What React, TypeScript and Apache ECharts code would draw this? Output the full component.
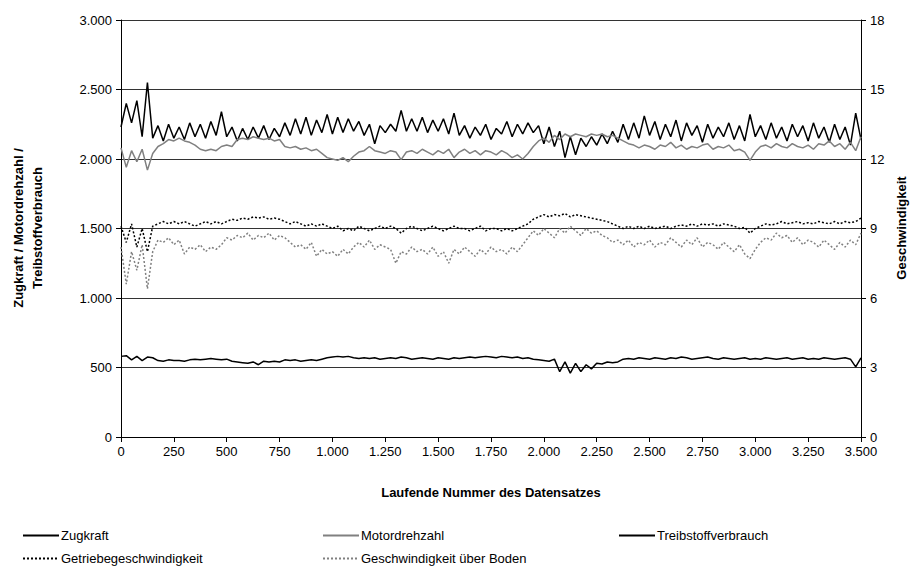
import React, { useEffect, useRef } from "react";
import * as echarts from "echarts";

const STEP = 25;

const zugkraft = [
  2230, 2400, 2260, 2420, 2160, 2550, 2150, 2240, 2130, 2250,
  2150, 2230, 2140, 2260, 2160, 2250, 2150, 2270, 2170, 2340,
  2160, 2230, 2130, 2220, 2140, 2230, 2150, 2240, 2140, 2220,
  2160, 2260, 2170, 2290, 2180, 2300, 2170, 2280, 2190, 2320,
  2180, 2300, 2190, 2290, 2200, 2270, 2170, 2250, 2110, 2240,
  2190, 2250, 2200, 2350, 2200, 2290, 2200, 2300, 2190, 2280,
  2200, 2290, 2180, 2330, 2170, 2240, 2150, 2230, 2170, 2250,
  2140, 2220, 2180, 2270, 2160, 2250, 2180, 2260, 2190, 2240,
  2110, 2230, 2090, 2200, 2010, 2160, 2030, 2150, 2090, 2160,
  2100, 2180, 2110, 2200, 2120, 2250, 2140, 2260, 2150, 2310,
  2170, 2270, 2140, 2250, 2160, 2280, 2130, 2260, 2170, 2240,
  2120, 2250, 2150, 2230, 2160, 2260, 2140, 2240, 2130, 2320,
  2160, 2240, 2140, 2260, 2150, 2230, 2130, 2250, 2160, 2240,
  2130, 2260, 2150, 2230, 2120, 2250, 2140, 2230, 2100, 2330,
  2140,
];

const motordrehzahl = [
  2080, 1940, 2060, 1980, 2070, 1920, 2040, 2090, 2110, 2140,
  2130, 2150, 2130, 2120, 2100, 2070, 2060, 2070, 2060, 2090,
  2100, 2090, 2140, 2150, 2140, 2160, 2150, 2140, 2150, 2130,
  2140, 2090, 2080, 2090, 2070, 2080, 2060, 2070, 2040, 2010,
  2000, 1990, 2010, 1980, 2020, 2050, 2060, 2090, 2060, 2050,
  2040, 2060, 2050, 1995, 2050, 2060, 2040, 2070, 2050, 2030,
  2060, 2040, 2070, 2010, 2050, 2070, 2040, 2060, 2030, 2060,
  2050, 2030, 2060, 2040, 2010, 2030, 2000, 2040, 2090, 2130,
  2150, 2120, 2170, 2140, 2180, 2160, 2180, 2170, 2160, 2180,
  2170, 2180, 2160, 2170, 2150, 2130, 2110, 2100, 2080, 2100,
  2090, 2070, 2100, 2090, 2120, 2080, 2100, 2070, 2090, 2080,
  2100, 2110, 2070, 2090, 2080, 2100, 2060, 2070, 2050, 1990,
  2050, 2090, 2100, 2080, 2110, 2090, 2080, 2110, 2090, 2080,
  2100, 2070, 2110, 2100, 2130, 2090, 2110, 2070, 2120, 2060,
  2160,
];

const treibstoffverbrauch = [
  580, 585, 555, 580, 550, 575, 570, 550, 545, 555,
  550, 550, 545, 555, 560, 555, 560, 565, 560, 555,
  560, 545, 540, 535, 530, 540, 520, 545, 540, 545,
  540, 555, 550, 555, 545, 550, 555, 550, 560, 570,
  575, 580, 575, 580, 570, 565, 570, 565, 570, 560,
  565, 570, 565, 575, 570, 560, 565, 570, 565, 560,
  570, 565, 560, 570, 565, 570, 575, 570, 575, 580,
  575, 570, 580, 575, 570, 575, 565, 570, 560, 555,
  550, 545, 560, 470, 540, 460, 530, 470, 520, 490,
  530, 525, 540, 535, 540, 560, 565, 560, 570, 565,
  560, 570, 565, 560, 570, 565, 575, 570, 560, 565,
  570, 575, 565, 560, 570, 565, 560, 565, 570, 560,
  565, 560, 570, 565, 560, 565, 570, 560, 565, 570,
  560, 565, 560, 570, 565, 560, 565, 570, 560, 505,
  570,
];

const getriebegeschwindigkeit = [
  9.1, 8.4, 9.2, 8.2, 9.0, 8.0, 9.1, 9.2, 9.3, 9.2,
  9.3, 9.2, 9.3, 9.2, 9.1, 9.2, 9.3, 9.2, 9.3, 9.2,
  9.3, 9.4, 9.35, 9.45, 9.4, 9.5, 9.45, 9.5, 9.4, 9.45,
  9.4, 9.3, 9.2, 9.3, 9.2, 9.1, 9.2, 9.1, 9.2, 9.1,
  9.0, 9.1, 8.9, 9.0, 8.9, 9.1, 9.0, 8.9, 9.0, 9.1,
  9.0, 9.1, 9.0, 8.8, 9.0, 9.1, 9.0, 8.9, 9.0, 9.1,
  9.0, 8.9, 9.0, 9.1, 9.0, 9.0, 8.9, 9.0, 9.1, 8.9,
  9.0, 9.0, 8.9, 9.0, 8.9, 9.0, 9.1, 9.2, 9.4, 9.5,
  9.6, 9.5, 9.6, 9.55, 9.65, 9.5, 9.6, 9.55, 9.5, 9.45,
  9.4, 9.35, 9.3, 9.2, 9.1, 9.0, 9.1, 9.0, 9.1, 9.0,
  9.1, 9.0, 9.05, 9.1, 9.0, 9.1, 9.15, 9.1, 9.2, 9.1,
  9.2, 9.15, 9.2, 9.1, 9.2, 9.15, 9.1, 9.0, 9.05, 8.8,
  9.0, 9.1, 9.2, 9.15, 9.2, 9.3, 9.2, 9.25, 9.3, 9.2,
  9.25, 9.2, 9.3, 9.25, 9.2, 9.3, 9.2, 9.3, 9.25, 9.3,
  9.45,
];

const geschwindigkeitBoden = [
  8.2, 6.6, 8.0, 7.2, 8.3, 6.4, 8.0, 8.5, 8.4, 8.6,
  8.3, 8.5, 7.9, 8.2, 8.1, 8.3, 8.0, 8.2, 8.1, 8.3,
  8.6, 8.5, 8.7, 8.6, 8.8, 8.5, 8.7, 8.6, 8.8, 8.5,
  8.7, 8.6, 8.4, 8.2, 8.3, 8.1, 8.4, 7.8, 8.1, 7.9,
  8.0, 7.8, 8.1, 7.9, 8.2, 8.4, 8.2, 8.5, 8.1, 8.3,
  8.2, 8.1, 7.5, 8.0, 7.9, 8.2, 8.0, 8.1, 7.9, 8.2,
  7.8, 8.0, 7.5, 8.1, 7.9, 8.2, 8.0, 7.8, 8.1, 7.9,
  8.2, 8.0, 8.1, 7.9, 8.2, 8.0, 8.3, 8.6, 8.9, 8.7,
  9.0, 8.8, 8.6, 9.0, 8.8, 9.1, 8.9, 8.7, 9.0, 8.8,
  8.9, 8.7, 8.6, 8.4, 8.5, 8.3, 8.5, 8.2, 8.4, 8.3,
  8.5, 8.2, 8.4, 8.3, 8.6, 8.4, 8.2, 8.5, 8.3, 8.6,
  8.2, 8.4, 8.3, 8.1, 8.4, 8.2, 8.0, 8.3, 7.9, 7.7,
  8.1, 8.4, 8.6, 8.5, 8.8, 8.6, 8.7, 8.4, 8.6, 8.3,
  8.5, 8.4, 8.2, 8.5, 8.3, 8.1, 8.4, 8.2, 8.5, 8.3,
  8.8,
];

const seriesNames = [
  "Zugkraft",
  "Motordrehzahl",
  "Treibstoffverbrauch",
  "Getriebegeschwindigkeit",
  "Geschwindigkeit über Boden",
];

const FONT = "Liberation Sans, Arial, sans-serif";

const deFormat = (v: number) =>
  String(v).replace(/\B(?=(\d{3})+(?!\d))/g, ".");

const toPairs = (arr: number[]) => arr.map((v, i) => [i * STEP, v]);

export default function App() {
  const ref = useRef<HTMLDivElement>(null);

  useEffect(() => {
    if (!ref.current) return;
    const chart = echarts.init(ref.current, undefined, { renderer: "svg" });

    const legendText = { fontFamily: FONT, fontSize: 13, color: "#000" };
    const mkLegend = (name: string, left: number, top: number) => ({
      data: [name],
      left,
      top,
      orient: "horizontal",
      itemWidth: 36,
      itemHeight: 12,
      itemGap: 0,
      padding: 0,
      textStyle: { ...legendText, padding: [0, 0, 0, -3] },
      itemStyle: { color: "rgba(0,0,0,0)", borderWidth: 0, opacity: 0 },
      selectedMode: false,
    });

    const option: any = {
      animation: false,
      backgroundColor: "#fff",
      textStyle: { fontFamily: FONT },
      grid: { left: 121, right: 57, top: 20, bottom: 135, containLabel: false },
      legend: [
        mkLegend(seriesNames[0], 22, 529),
        mkLegend(seriesNames[1], 322, 529),
        mkLegend(seriesNames[2], 618, 529),
        mkLegend(seriesNames[3], 22, 552),
        mkLegend(seriesNames[4], 322, 552),
      ],
      xAxis: {
        type: "value",
        min: 0,
        max: 3500,
        interval: 250,
        axisLine: { show: true, lineStyle: { color: "#000", width: 1 } },
        axisTick: { show: true, inside: false, length: 5, lineStyle: { color: "#000" } },
        axisLabel: {
          fontFamily: FONT,
          fontSize: 13,
          color: "#000",
          margin: 8,
          formatter: (v: number) => deFormat(v),
        },
        splitLine: { show: false },
        name: "Laufende Nummer des Datensatzes",
        nameLocation: "middle",
        nameGap: 49,
        nameTextStyle: { fontFamily: FONT, fontSize: 13, fontWeight: "bold", color: "#000" },
      },
      yAxis: [
        {
          type: "value",
          min: 0,
          max: 3000,
          interval: 500,
          position: "left",
          axisLine: { show: true, lineStyle: { color: "#000", width: 1 } },
          axisTick: { show: true, inside: false, length: 5, lineStyle: { color: "#000" } },
          axisLabel: {
            fontFamily: FONT,
            fontSize: 13,
            color: "#000",
            margin: 9,
            formatter: (v: number) => deFormat(v),
          },
          splitLine: { show: true, lineStyle: { color: "#333", width: 1 } },
        },
        {
          type: "value",
          min: 0,
          max: 18,
          interval: 3,
          position: "right",
          axisLine: { show: true, lineStyle: { color: "#000", width: 1 } },
          axisTick: { show: true, inside: false, length: 5, lineStyle: { color: "#000" } },
          axisLabel: { fontFamily: FONT, fontSize: 13, color: "#000", margin: 9 },
          splitLine: { show: false },
        },
      ],
      graphic: [
        {
          type: "text",
          x: 28,
          y: 228,
          rotation: Math.PI / 2,
          style: {
            text: "Zugkraft / Motordrehzahl /\nTreibstoffverbrauch",
            fontFamily: FONT,
            fontSize: 13,
            fontWeight: "bold",
            fill: "#000",
            align: "center",
            verticalAlign: "middle",
            lineHeight: 19,
          },
        },
        {
          type: "text",
          x: 901,
          y: 228,
          rotation: Math.PI / 2,
          style: {
            text: "Geschwindigkeit",
            fontFamily: FONT,
            fontSize: 13,
            fontWeight: "bold",
            fill: "#000",
            align: "center",
            verticalAlign: "middle",
          },
        },
      ],
      series: [
        {
          name: seriesNames[0],
          type: "line",
          yAxisIndex: 0,
          symbol: "none",
          data: toPairs(zugkraft),
          lineStyle: { color: "#000", width: 1.5 },
          itemStyle: { color: "#000" },
          z: 2,
        },
        {
          name: seriesNames[1],
          type: "line",
          yAxisIndex: 0,
          symbol: "none",
          data: toPairs(motordrehzahl),
          lineStyle: { color: "#808080", width: 1.5 },
          itemStyle: { color: "#808080" },
          z: 3,
        },
        {
          name: seriesNames[2],
          type: "line",
          yAxisIndex: 0,
          symbol: "none",
          data: toPairs(treibstoffverbrauch),
          lineStyle: { color: "#000", width: 1.5 },
          itemStyle: { color: "#000" },
          z: 4,
        },
        {
          name: seriesNames[3],
          type: "line",
          yAxisIndex: 1,
          symbol: "none",
          data: toPairs(getriebegeschwindigkeit),
          lineStyle: { color: "#000", width: 1.5, type: [2, 2] },
          itemStyle: { color: "#000" },
          z: 5,
        },
        {
          name: seriesNames[4],
          type: "line",
          yAxisIndex: 1,
          symbol: "none",
          data: toPairs(geschwindigkeitBoden),
          lineStyle: { color: "#808080", width: 1.5, type: [2, 2] },
          itemStyle: { color: "#808080" },
          z: 6,
        },
      ],
    };

    chart.setOption(option);
    return () => chart.dispose();
  }, []);

  return (
    <div
      ref={ref}
      style={{ position: "fixed", left: 0, top: 0, width: 918, height: 572 }}
    />
  );
}
